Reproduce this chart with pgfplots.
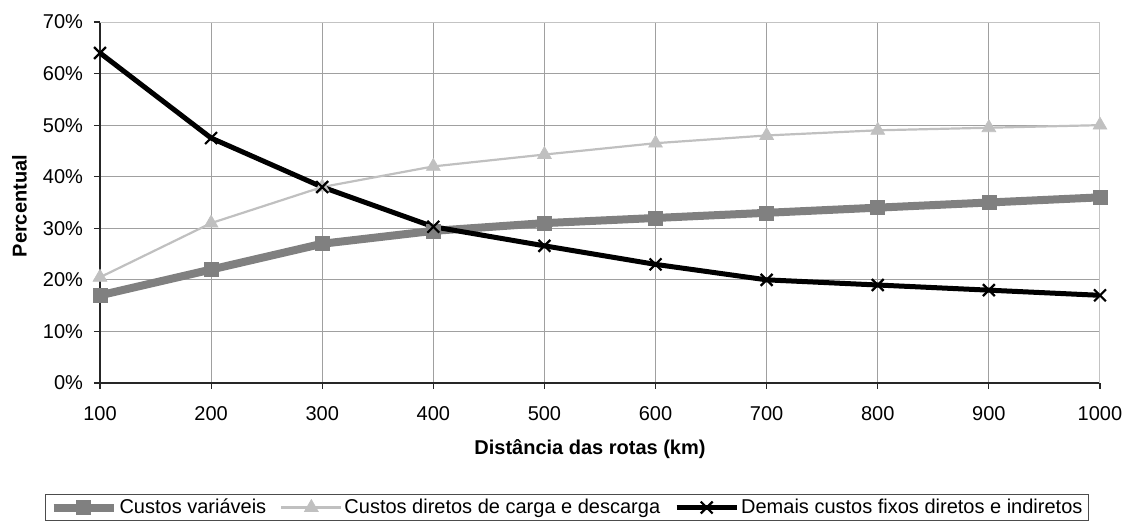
\documentclass[border=0pt]{standalone}
\usepackage{fontspec}
\setmainfont{Liberation Sans}
\usepackage{pgfplots}
\pgfplotsset{compat=1.18}
\definecolor{cvar}{RGB}{128,128,128}
\definecolor{cdir}{RGB}{192,192,192}
\definecolor{gridc}{RGB}{160,160,160}
\definecolor{bordc}{RGB}{195,195,195}
\begin{document}
\begin{tikzpicture}
\begin{axis}[
  scale only axis, width=500pt, height=180.5pt,
  xmin=100, xmax=1000, ymin=0, ymax=70,
  xtick={100,200,...,1000}, ytick={0,10,...,70},
  axis x line*=bottom, axis y line*=left,
  axis line style={-, black!85, line width=0.6pt},
  tick align=outside, major tick length=3pt,
  tick style={black!85, line width=0.6pt},
  grid=major, major grid style={gridc, line width=0.5pt},
  /pgf/number format/assume math mode=true,
  /pgf/number format/1000 sep={},
  yticklabel={\pgfmathprintnumber{\tick}\%},
  yticklabel style={xshift=-2pt},
  xticklabel style={yshift=-5pt},
  xlabel={\textbf{Distância das rotas (km)}},
  ylabel={\textbf{Percentual}},
  xlabel style={at={(axis description cs:0.49,-0.1828)}, anchor=center},
  ylabel style={at={(axis description cs:-0.0805,0.49)}, anchor=center, rotate=0},
  legend columns=3,
  legend cell align=left,
  legend style={at={(axis description cs:0.467,-0.345)}, anchor=center,
    draw=black!70, line width=0.6pt, inner xsep=2pt, inner ysep=1pt,
    font=\fontsize{10}{12}\selectfont,
    nodes={inner xsep=1pt, inner ysep=1pt},
    /tikz/every even column/.append style={column sep=6pt}},
  legend image code/.code={\draw[mark repeat=2,mark phase=2,#1] plot coordinates {(0pt,0pt) (15pt,0pt) (30pt,0pt)};},
]
\addplot[cvar, line width=4pt, mark=square*, mark size=3.5pt, mark options={solid, line width=0.3pt, fill=cvar}]
  coordinates {(100,17) (200,22) (300,27) (400,29.5) (500,31) (600,32) (700,33) (800,34) (900,35) (1000,36)};
\addlegendentry{Custos variáveis}
\addplot[cdir, line width=1.1pt, mark=triangle*, mark size=4pt, mark options={solid, line width=0.3pt, fill=cdir}]
  coordinates {(100,20.5) (200,31) (300,38) (400,42) (500,44.3) (600,46.5) (700,48) (800,49) (900,49.5) (1000,50)};
\addlegendentry{Custos diretos de carga e descarga}
\addplot[black, line width=2.5pt, line join=round, mark=x, mark size=4.2pt, mark options={solid, line width=1.1pt}]
  coordinates {(100,64) (200,47.5) (300,38) (400,30.3) (500,26.6) (600,23) (700,20) (800,19) (900,18) (1000,17)};
\addlegendentry{Demais custos fixos diretos e indiretos}
\draw[bordc, line width=0.8pt] (axis cs:100,70) -- (axis cs:1000,70) -- (axis cs:1000,0);
\end{axis}
\pgfresetboundingbox
\path[use as bounding box] (-50pt,-70pt) rectangle (512.5pt,191.5pt);
\end{tikzpicture}
\end{document}
